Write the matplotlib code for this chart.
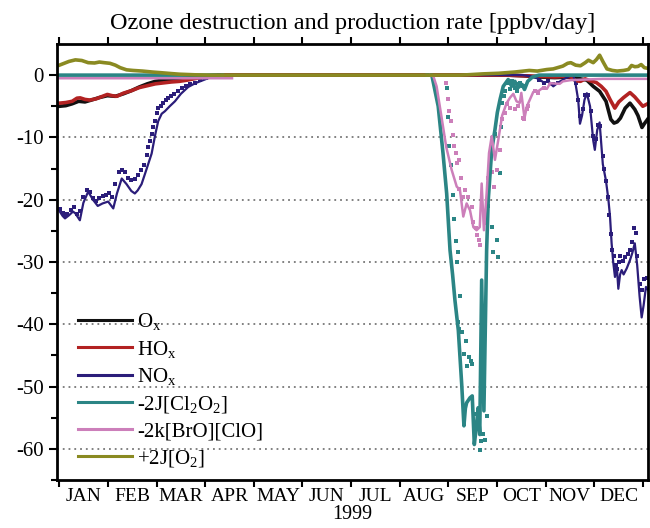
"""Ozone destruction and production rates over 1999."""

import matplotlib

matplotlib.use("Agg")

import matplotlib.pyplot as plt
import numpy as np

nan = np.nan

MONTHS = ["JAN", "FEB", "MAR", "APR", "MAY", "JUN",
          "JUL", "AUG", "SEP", "OCT", "NOV", "DEC"]
YEAR_LABEL = "1999"
TITLE = "Ozone destruction and production rate [ppbv/day]"

# day of year (0 = 1 Jan) and rate in ppbv/day
OX_DAYS = [0, 4, 8, 12, 16, 20, 25, 30, 35, 40, 45, 50, 55, 60, 65, 70, 75, 80,
           85, 90, 95, 100, 200, 280, 290, 300, 310, 320, 326, 330, 334, 338,
           342, 345, 347, 349, 351, 354, 357, 360, 362, 364.5, 366, 368]
OX_VALS = [-5.0, -4.9, -4.6, -4.2, -4.3, -4.0, -3.6, -3.3, -3.4, -3.0, -2.5,
           -1.9, -1.4, -1.0, -0.8, -0.7, -0.6, -0.5, -0.3, -0.15, -0.05, 0, 0,
           0, -0.1, -0.3, -0.4, -0.3, -0.6, -0.8, -1.8, -2.6, -4.2, -7.1, -7.7,
           -7.5, -6.9, -5.3, -4.5, -5.5, -6.5, -8.4, -7.8, -7.1]

HOX_DAYS = [0, 4, 8, 11, 13, 16, 19, 23, 27, 30, 33, 36, 40, 45, 50, 55, 60,
            65, 70, 75, 80, 85, 90, 95, 100, 200, 280, 290, 300, 310, 316, 320,
            323, 326, 329, 332, 336, 339, 342, 344.5, 347.5, 350, 353, 357,
            360, 363, 365, 368]
HOX_VALS = [-4.5, -4.4, -4.2, -3.7, -3.65, -3.9, -4.0, -3.8, -3.4, -3.1, -3.3,
            -3.4, -2.9, -2.5, -2.0, -1.7, -1.4, -1.25, -1.1, -1.0, -0.8, -0.55,
            -0.3, -0.1, 0, 0, 0, -0.1, -0.2, -0.3, -0.2, -0.3, -0.9, -1.0, -0.6,
            -0.9, -1.2, -1.8, -2.6, -3.9, -5.3, -4.3, -3.6, -2.8, -3.5, -4.4,
            -5.0, -4.6]

NOX_DAYS = [0, 2, 3.5, 6, 8.5, 10, 12.8, 15, 18, 21, 24, 27, 30.5, 33.7, 36,
            39, 42, 45, 47.2, 49, 51.4, 54, 57.7, 60, 61.8, 64, 66, 69, 72.3,
            76, 80.6, 85, 89, 95, 100, 200, 290, 295, 300, 303, 306, 309, 312,
            316, 319, 321.5, 323, 324.6, 325.7, 327, 328.5, 330, 332, 334, 335,
            336.5, 338, 340, 342, 343.5, 344.5, 345.5, 346.5, 347.6, 348.7,
            349.7, 350.8, 351.8, 353, 355, 357, 358.5, 360, 361.5, 363, 364.3,
            365.5, 367, 368.3]
NOX_VALS = [-21.8, -22.6, -23.0, -22.5, -21.9, -22.2, -23.3, -20.5, -18.7,
            -20.0, -21.0, -20.6, -20.3, -21.4, -19.0, -16.6, -17.5, -18.6,
            -19.0, -18.5, -17.5, -15.5, -12.6, -9.5, -7.4, -6.2, -5.8, -5.0,
            -4.2, -3.0, -1.9, -1.3, -0.9, -0.3, 0, 0, 0, -0.2, -0.6, -1.2, -1.0,
            -1.8, -1.2, -0.6, -0.2, 0, -1.5, -4.0, -7.8, -6.5, -4.0, -2.9, -5.0,
            -10.5, -12.0, -8.8, -7.6, -14.3, -17.0, -20.0, -22.7, -27.0, -30.0,
            -32.4, -30.5, -34.3, -32.0, -31.3, -32.0, -31.0, -29.7, -28.5,
            -27.0, -30.5, -35.5, -38.9, -37.0, -34.0, -34.5]

NOX_DOT_DAYS = [0.5, 2, 3.5, 5, 7, 9, 11, 13, 15, 17, 19, 21, 23, 25, 27, 29,
                31, 33, 35, 37, 39, 41, 43, 45, 47, 49, 51, 53, 54.5, 55.5,
                56.6, 57.7, 58.8, 59.8, 61, 62, 63.5, 65, 66.5, 68, 70, 72, 74,
                76.5, 79, 82, 85, 88, 92, 96, 100, 300, 303, 306, 309, 312, 319,
                323, 324.5, 326, 327.5, 329, 331, 332.5, 334, 335.5, 337, 338.5,
                340, 341, 342, 343, 344, 345, 346, 347, 348, 349, 350, 351,
                352.5, 354, 355.5, 357, 358.5, 359.5, 360.5, 361.5, 363, 364.5,
                366, 367.5]
NOX_DOT_VALS = [-21.5, -22.2, -22.6, -22.3, -21.7, -21.2, -22.3, -21.8, -19.5,
                -18.5, -18.8, -19.7, -20.2, -19.8, -19.4, -19.2, -19.0, -19.5,
                -17.5, -15.5, -15.3, -15.6, -16.5, -16.8, -16.7, -16.0, -15.2,
                -14.5, -12.8, -11.5, -10.6, -9.5, -8.4, -7.4, -6.0, -5.2, -4.9,
                -4.5, -4.0, -3.7, -3.4, -3.0, -2.6, -2.1, -1.8, -1.5, -1.2, -0.8,
                -0.5, -0.2, 0, -0.8, -1.3, -1.0, -1.5, -1.2, -0.3, -1.2, -4.0,
                -6.5, -5.5, -3.2, -3.2, -5.8, -9.8, -10.2, -8.0, -8.2, -13.0,
                -15.0, -17.0, -19.5, -22.5, -25.5, -28.1, -29.0, -30.5, -31.2,
                -30.0, -29.0, -29.8, -29.2, -28.7, -28.0, -26.8, -24.5, -25.3,
                -29.0, -33.5, -34.5, -32.7, -32.5]

CL2O2_DAYS = [0, 102, 103, 230, 233, 235, 237, 240, 242.3, 244.4, 246, 247.5,
              249.6, 251.7, 253.1, 254, 254.8, 256.9, 258.3, 259.6, 261, 262,
              263, 264.2, 265.6, 267.3, 268.3, 270.5, 272.5, 274, 275.7, 277.7,
              280.8, 283, 285, 287, 289.5, 291, 293, 296, 300, 368]
CL2O2_VALS = [0, 0, nan, 0, 0, -2.5, -5.0, -12.5, -19.0, -28.1, -32.0, -36.2,
              -41.0, -49.6, -56.3, -53.5, -52.6, -51.8, -51.5, -59.3, -56.1,
              -53.4, -57.7, -32.9, -53.9, -28.1, -20.1, -12.0, -8.8, -6.0, -3.9,
              -1.8, -0.7, -1.8, -1.0, -2.0, -1.5, -2.3, -1.0, -0.3, 0, 0]

CL2O2_DOT_DAYS = [242.3, 243, 244, 245, 246, 247, 247.9, 248.8, 249.7, 250.9,
                  249.6, 249.8, 252, 253, 254.4, 255, 256.3, 257.3, 258.1,
                  259.6, 260.4, 263.1, 263.8, 265.2, 266.3, 267.3, 268.3, 270.5,
                  271.5, 272.5, 273.6, 274.2, 275.7, 276.3, 277, 278.4, 279,
                  280.8, 282, 283, 284, 285, 286, 287, 288, 290]
CL2O2_DOT_VALS = [-2.0, -6.7, -11.3, -14.4, -19.2, -23.1, -26.6, -30.0, -28.4,
                  -35.5, -39.7, -40.7, -41.3, -44.7, -42.7, -46.7, -45.3, -45.9,
                  -46.3, -54.4, -56.1, -60.2, -58.8, -57.6, -58.6, -54.8, -21.0,
                  -24.4, -28.4, -9.5, -26.5, -29.2, -15.7, -8.3, -4.5, -3.3,
                  -2.5, -1.2, -2.2, -1.0, -1.5, -2.0, -2.5, -1.5, -1.2, -1.8]

BRCL_DAYS = [0, 108, 109, 232, 234, 236, 239, 242, 245.4, 248.6, 250.6, 252.7,
             254.8, 256.9, 259, 261, 263, 264.2, 265.6, 267.3, 268.8, 270.5,
             272.5, 274.6, 277, 279.8, 282, 284, 286, 288, 289, 291, 292.5,
             296.5, 300, 302.7, 305, 307, 313, 315, 320, 330, 340, 368]
BRCL_VALS = [-0.5, -0.5, nan, 0, -0.2, -1.8, -6.6, -11.5, -15.2, -17.9, -18.4,
             -22.7, -20.6, -21.7, -24.4, -24.9, -24.4, -17.4, -24.9, -19.0,
             -12.5, -9.8, -13.6, -10.4, -6.5, -4.5, -3.6, -3.0, -4.2, -4.45,
             -2.85, -6.9, -5.0, -2.7, -2.5, -2.0, -2.2, -1.3, -1.4, -1.0, -0.8,
             -0.7, -0.6, -0.6]

BRCL_DOT_DAYS = [241.9, 243, 243.6, 244.7, 246, 247, 248, 249, 250, 251.3,
                 249.8, 252.7, 254, 255.4, 258, 259, 260.4, 261.2, 262.5, 263.2,
                 266.3, 267.3, 268.3, 270.8, 272, 273.6, 275.7, 277, 278.7,
                 279.8, 282, 285, 287, 290, 290.7, 292.3, 293.3, 297.5, 299.5,
                 303, 307]
BRCL_DOT_VALS = [-1.3, -3.8, -5.8, -7.3, -9.6, -11.3, -12.5, -14.1, -13.6,
                 -16.5, -18.3, -19.6, -18.4, -19.6, -21.1, -23.5, -24.6, -25.7,
                 -26.5, -27.3, -23.3, -23.8, -16.5, -15.5, -17.9, -15.2, -12.1,
                 -7.1, -6.1, -4.7, -5.3, -5.5, -5.0, -6.9, -7.1, -5.5, -5.0,
                 -2.6, -2.85, -2.0, -1.5]

O2_DAYS = [0, 3, 6, 10, 14, 18, 22, 25, 28, 31.6, 35, 38, 42, 46, 52, 58, 63,
           70, 75, 85, 95, 250, 255, 265, 275, 285, 294, 299, 305, 309, 315,
           318, 320, 323, 326, 329, 331, 334, 336, 338, 340, 342.6, 346, 349,
           353, 356, 358, 360, 362, 364, 366, 368]
O2_VALS = [1.6, 1.9, 2.2, 2.45, 2.35, 2.0, 1.95, 2.1, 2.0, 1.9, 1.6, 1.2, 0.85,
           0.75, 0.65, 0.5, 0.4, 0.25, 0.15, 0.05, 0, 0, 0.05, 0.2, 0.3, 0.5,
           0.75, 0.65, 0.9, 1.0, 1.45, 1.9, 2.0, 1.6, 1.5, 2.0, 2.4, 2.0, 2.5,
           3.2, 2.2, 1.0, 0.75, 0.65, 0.75, 0.9, 1.55, 1.35, 1.4, 1.7, 1.2, 1.1]

C_OX = "#111111"
C_HOX = "#b22222"
C_NOX = "#2b1d7a"
C_CL = "#2b8585"
C_BR = "#cc7fba"
C_O2 = "#8a8a22"

plt.rcParams["font.family"] = "Liberation Serif"
plt.rcParams["mathtext.fontset"] = "custom"
plt.rcParams["mathtext.rm"] = "Liberation Serif"
plt.rcParams["mathtext.it"] = "Liberation Serif:italic"
plt.rcParams["axes.unicode_minus"] = False

fig = plt.figure(figsize=(6.5, 5.28), dpi=100)
ax = fig.add_axes([0.0877, 0.0909, 0.9093, 0.8258])

# dotted companion series as square markers
ms = 3.2
ax.plot(NOX_DOT_DAYS, NOX_DOT_VALS, "s", ms=ms, color=C_NOX, mew=0)
ax.plot(CL2O2_DOT_DAYS, CL2O2_DOT_VALS, "s", ms=ms, color=C_CL, mew=0)
ax.plot(BRCL_DOT_DAYS, BRCL_DOT_VALS, "s", ms=ms, color=C_BR, mew=0)

ax.plot(OX_DAYS, OX_VALS, color=C_OX, lw=2.6, label=r"O$_\mathrm{x}$")
ax.plot(HOX_DAYS, HOX_VALS, color=C_HOX, lw=2.6, label=r"HO$_\mathrm{x}$")
ax.plot(NOX_DAYS, NOX_VALS, color=C_NOX, lw=1.6, label=r"NO$_\mathrm{x}$")
ax.plot(CL2O2_DAYS, CL2O2_VALS, color=C_CL, lw=2.6,
        label=r"-2J[Cl$_\mathrm{2}$O$_\mathrm{2}$]")
ax.plot(BRCL_DAYS, BRCL_VALS, color=C_BR, lw=1.8, label="-2k[BrO][ClO]")
ax.plot(O2_DAYS, O2_VALS, color=C_O2, lw=2.6, label=r"+2J[O$_\mathrm{2}$]")

month_len = 365 / 12
ax.set_xlim(-1.5, 368.3)
ax.set_ylim(-65, 5)
ax.set_xticks([i * month_len for i in range(13)])
ax.set_xticklabels([])
ax.set_xticks([(i + 0.5) * month_len for i in range(12)], minor=True)
ax.set_xticklabels(MONTHS, minor=True)
ax.tick_params(axis="x", which="major", direction="out", length=5, width=1.5,
               top=True)
ax.tick_params(axis="x", which="minor", length=0, labelsize=14, pad=6)
ax.set_yticks(np.arange(-60, 1, 10))
ax.set_yticks(np.arange(-65, 5, 5), minor=True)
ax.tick_params(axis="y", which="major", direction="out", length=6, width=1.5,
               labelsize=15)
ax.tick_params(axis="y", which="minor", direction="out", length=4, width=1.5)
for side in ["left", "right", "top", "bottom"]:
    ax.spines[side].set_linewidth(2)

for level in np.arange(-60, 0, 10):
    ax.axhline(level, color="#777777", lw=1.3, ls=(0, (1, 2.2)), zorder=0)

ax.set_title(TITLE, fontsize=17.5, pad=11)
ax.set_xlabel(YEAR_LABEL, fontsize=14.5, labelpad=0)

leg = ax.legend(loc="lower left", bbox_to_anchor=(0.0, -0.022), frameon=False,
                fontsize=15, handlelength=2.6, handletextpad=0.25,
                labelspacing=0.32, borderaxespad=0.6)
for handle in leg.get_lines():
    handle.set_linewidth(2.2)

fig.savefig("out.png", dpi=100)
